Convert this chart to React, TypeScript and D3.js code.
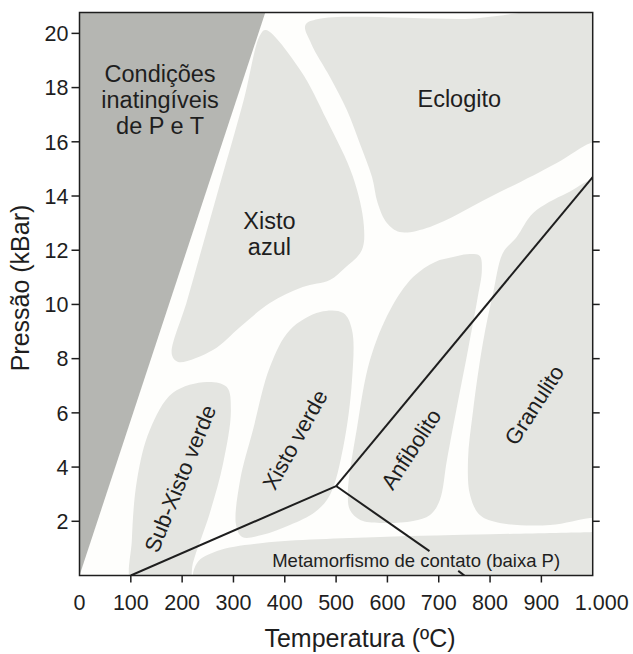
import React from "react";
import * as d3 from "d3";

// ---- Data (temperature °C, pressure kBar) ----
const TEMP_TICKS = [0, 100, 200, 300, 400, 500, 600, 700, 800, 900, 1000];
const TEMP_TICK_LABELS = ["0", "100", "200", "300", "400", "500", "600", "700", "800", "900", "1.000"];
const PRESS_TICKS = [2, 4, 6, 8, 10, 12, 14, 16, 18, 20];
const PRESS_TICKS_RIGHT = [2, 4, 6, 8, 10, 12, 14, 16];

const UNREACHABLE: [number, number][] = [[0, 0], [362, 20.77], [0, 20.77]];

const XISTO_AZUL: [number, number][] = [
  [363, 20.12], [430, 18.65], [482, 16.8], [533, 14.7], [554, 12.93], [550, 12.0],
  [517, 11.34], [488, 10.9], [435, 10.64], [371, 10.05], [313, 9.17], [260, 8.32],
  [192, 7.88], [180, 8.14], [210, 10.16], [265, 13.85], [320, 17.54], [352, 19.94],
];

const ECLOGITO: [number, number][] = [
  [440, 20.3], [465, 20.53], [740, 20.53], [1014, 20.53], [1014, 15.99], [995, 15.95],
  [930, 15.22], [800, 13.96], [683, 12.86], [624, 12.67], [599, 13.0], [581, 13.74],
  [570, 14.7], [546, 15.95], [521, 17.17], [488, 18.39], [452, 19.6],
];

const ANFIBOLITO: [number, number][] = [
  [728, 11.75], [761, 11.86], [780, 11.79], [784, 11.27], [775, 10.16], [757, 8.32],
  [738, 6.47], [716, 4.26], [702, 2.78], [683, 2.23], [650, 2.01], [586, 1.94],
  [547, 2.05], [527, 2.42], [523, 3.04], [541, 5.48], [566, 7.95], [605, 9.79],
  [650, 11.01], [693, 11.57],
];

const GRANULITO: [number, number][] = [
  [852, 12.49], [884, 13.37], [950, 14.11], [1014, 14.59], [1014, 8.0], [1014, 2.12],
  [995, 2.12], [917, 1.86], [819, 1.94], [780, 2.23], [761, 2.97], [757, 4.26],
  [767, 6.1], [786, 8.58], [806, 10.42], [825, 11.9],
];

const XISTO_VERDE: [number, number][] = [
  [469, 9.72], [514, 9.68], [531, 9.06], [531, 7.21], [514, 4.74], [488, 2.97],
  [459, 2.34], [410, 1.86], [357, 1.5], [317, 1.42], [305, 1.86], [313, 3.52],
  [338, 5.37], [371, 7.69], [410, 9.06],
];

const SUB_XISTO_VERDE: [number, number][] = [
  [248, 7.14], [287, 6.95], [295, 6.1], [280, 4.15], [254, 2.31], [221, 0.46],
  [213, -0.3], [160, -0.3], [102, -0.3], [102, 1.31], [112, 3.52], [137, 5.37], [182, 6.74],
];

const METAMORFISMO: [number, number][] = [
  [225, -0.3], [229, 0.46], [268, 0.9], [357, 1.2], [586, 1.42], [800, 1.52],
  [995, 1.6], [1014, 1.6], [1014, -0.3], [600, -0.3],
];

const FACIES_LINE_LOW: [number, number][] = [[100, 0], [500, 3.3]];
const FACIES_LINE_HIGH: [number, number][] = [[500, 3.3], [1000, 14.7]];
const CONTACT_LINE_A: [number, number][] = [[500, 3.3], [682, 0.9]];
const CONTACT_LINE_B: [number, number][] = [[738, 0.17], [750, 0]];

const REGION_LABELS = [
  { lines: ["Condições", "inatingíveis", "de P e T"], t: 157, p: 18.2 },
  { lines: ["Eclogito"], t: 740, p: 17.3 },
  { lines: ["Xisto", "azul"], t: 370, p: 12.8 },
];

const ROTATED_LABELS = [
  { text: "Sub-Xisto verde", t: 196, p: 3.58, angle: -68 },
  { text: "Xisto verde", t: 420, p: 5.01, angle: -61 },
  { text: "Anfibolito", t: 646, p: 4.66, angle: -57 },
  { text: "Granulito", t: 886, p: 6.29, angle: -57 },
];

const CONTACT_LABEL = { text: "Metamorfismo de contato (baixa P)", t: 656, p: 0.33 };

const W = 633;
const H = 654;
const FONT = "'Liberation Sans', Arial, Helvetica, sans-serif";
const LIGHT = "#e4e5e1";
const DARK = "#b5b6b2";
const INK = "#1e1e1e";

export default function App() {
  const x = d3.scaleLinear().domain([0, 1000]).range([79.5, 592.7]);
  const y = d3.scaleLinear().domain([0, 20.77]).range([575.5, 12.5]);

  const blob = d3
    .line<[number, number]>()
    .x((d) => x(d[0]))
    .y((d) => y(d[1]))
    .curve(d3.curveCatmullRomClosed.alpha(0.5));
  const poly = d3
    .line<[number, number]>()
    .x((d) => x(d[0]))
    .y((d) => y(d[1]));

  const x0 = x(0);
  const x1 = x(1000);
  const yTop = y(20.77);
  const yBot = y(0);

  const blobs = [XISTO_AZUL, ECLOGITO, ANFIBOLITO, GRANULITO, XISTO_VERDE, SUB_XISTO_VERDE, METAMORFISMO];

  return (
    <svg
      width={W}
      height={H}
      style={{ position: "absolute", left: 0, top: 0, background: "#ffffff" }}
      fontFamily={FONT}
    >
      <defs>
        <clipPath id="plot">
          <rect x={x0} y={yTop} width={x1 - x0} height={yBot - yTop} />
        </clipPath>
      </defs>
      <g clipPath="url(#plot)">
        <rect x={x0} y={yTop} width={x1 - x0} height={yBot - yTop} fill="#fefefc" />
        <path d={poly(UNREACHABLE) + "Z"} fill={DARK} />
        {blobs.map((b, i) => (
          <path key={i} d={blob(b) || ""} fill={LIGHT} />
        ))}
        <path d={poly(FACIES_LINE_LOW) || ""} stroke={INK} strokeWidth={2} fill="none" />
        <path d={poly(FACIES_LINE_HIGH) || ""} stroke={INK} strokeWidth={2} fill="none" />
        <path d={poly(CONTACT_LINE_A) || ""} stroke={INK} strokeWidth={2} fill="none" />
        <path d={poly(CONTACT_LINE_B) || ""} stroke={INK} strokeWidth={2} fill="none" />
      </g>

      {/* frame */}
      <rect x={x0} y={yTop} width={x1 - x0} height={yBot - yTop} fill="none" stroke={INK} strokeWidth={1.5} />

      {/* bottom ticks */}
      {TEMP_TICKS.map((t, i) => (
        <g key={"xt" + t}>
          {t > 0 && t < 1000 && (
            <line x1={x(t)} x2={x(t)} y1={yBot} y2={yBot + 7} stroke={INK} strokeWidth={1.5} />
          )}
          <text
            x={x(t)}
            dx={i === TEMP_TICKS.length - 1 ? 9 : 0}
            y={610}
            textAnchor="middle"
            fontSize={21.5}
            fill={INK}
          >
            {TEMP_TICK_LABELS[i]}
          </text>
        </g>
      ))}

      {/* left ticks */}
      {PRESS_TICKS.map((p) => (
        <g key={"yt" + p}>
          <line x1={x0 - 8} x2={x0} y1={y(p)} y2={y(p)} stroke={INK} strokeWidth={1.5} />
          <text x={x0 - 11} y={y(p)} dy="0.36em" textAnchor="end" fontSize={21.5} fill={INK}>
            {p}
          </text>
        </g>
      ))}

      {/* right ticks */}
      {PRESS_TICKS_RIGHT.map((p) => (
        <line key={"rt" + p} x1={x1} x2={x1 + 7} y1={y(p)} y2={y(p)} stroke={INK} strokeWidth={1.5} />
      ))}

      {/* region labels */}
      {REGION_LABELS.map((l, i) => (
        <text key={"rl" + i} x={x(l.t)} y={y(l.p)} textAnchor="middle" fontSize={23.5} fill={INK}>
          {l.lines.map((s, j) => (
            <tspan key={j} x={x(l.t)} dy={j === 0 ? 0 : 26}>
              {s}
            </tspan>
          ))}
        </text>
      ))}

      {ROTATED_LABELS.map((l, i) => (
        <text
          key={"ro" + i}
          transform={`translate(${x(l.t)},${y(l.p)}) rotate(${l.angle})`}
          textAnchor="middle"
          dy="0.35em"
          fontSize={22}
          fill={INK}
        >
          {l.text}
        </text>
      ))}

      <text x={x(CONTACT_LABEL.t)} y={y(CONTACT_LABEL.p)} textAnchor="middle" fontSize={18.5} fill={INK}>
        {CONTACT_LABEL.text}
      </text>

      {/* axis titles */}
      <text x={360} y={647} textAnchor="middle" fontSize={25} fill={INK}>
        Temperatura (ºC)
      </text>
      <text transform={`translate(29,288) rotate(-90)`} textAnchor="middle" fontSize={25} fill={INK}>
        Pressão (kBar)
      </text>
    </svg>
  );
}
